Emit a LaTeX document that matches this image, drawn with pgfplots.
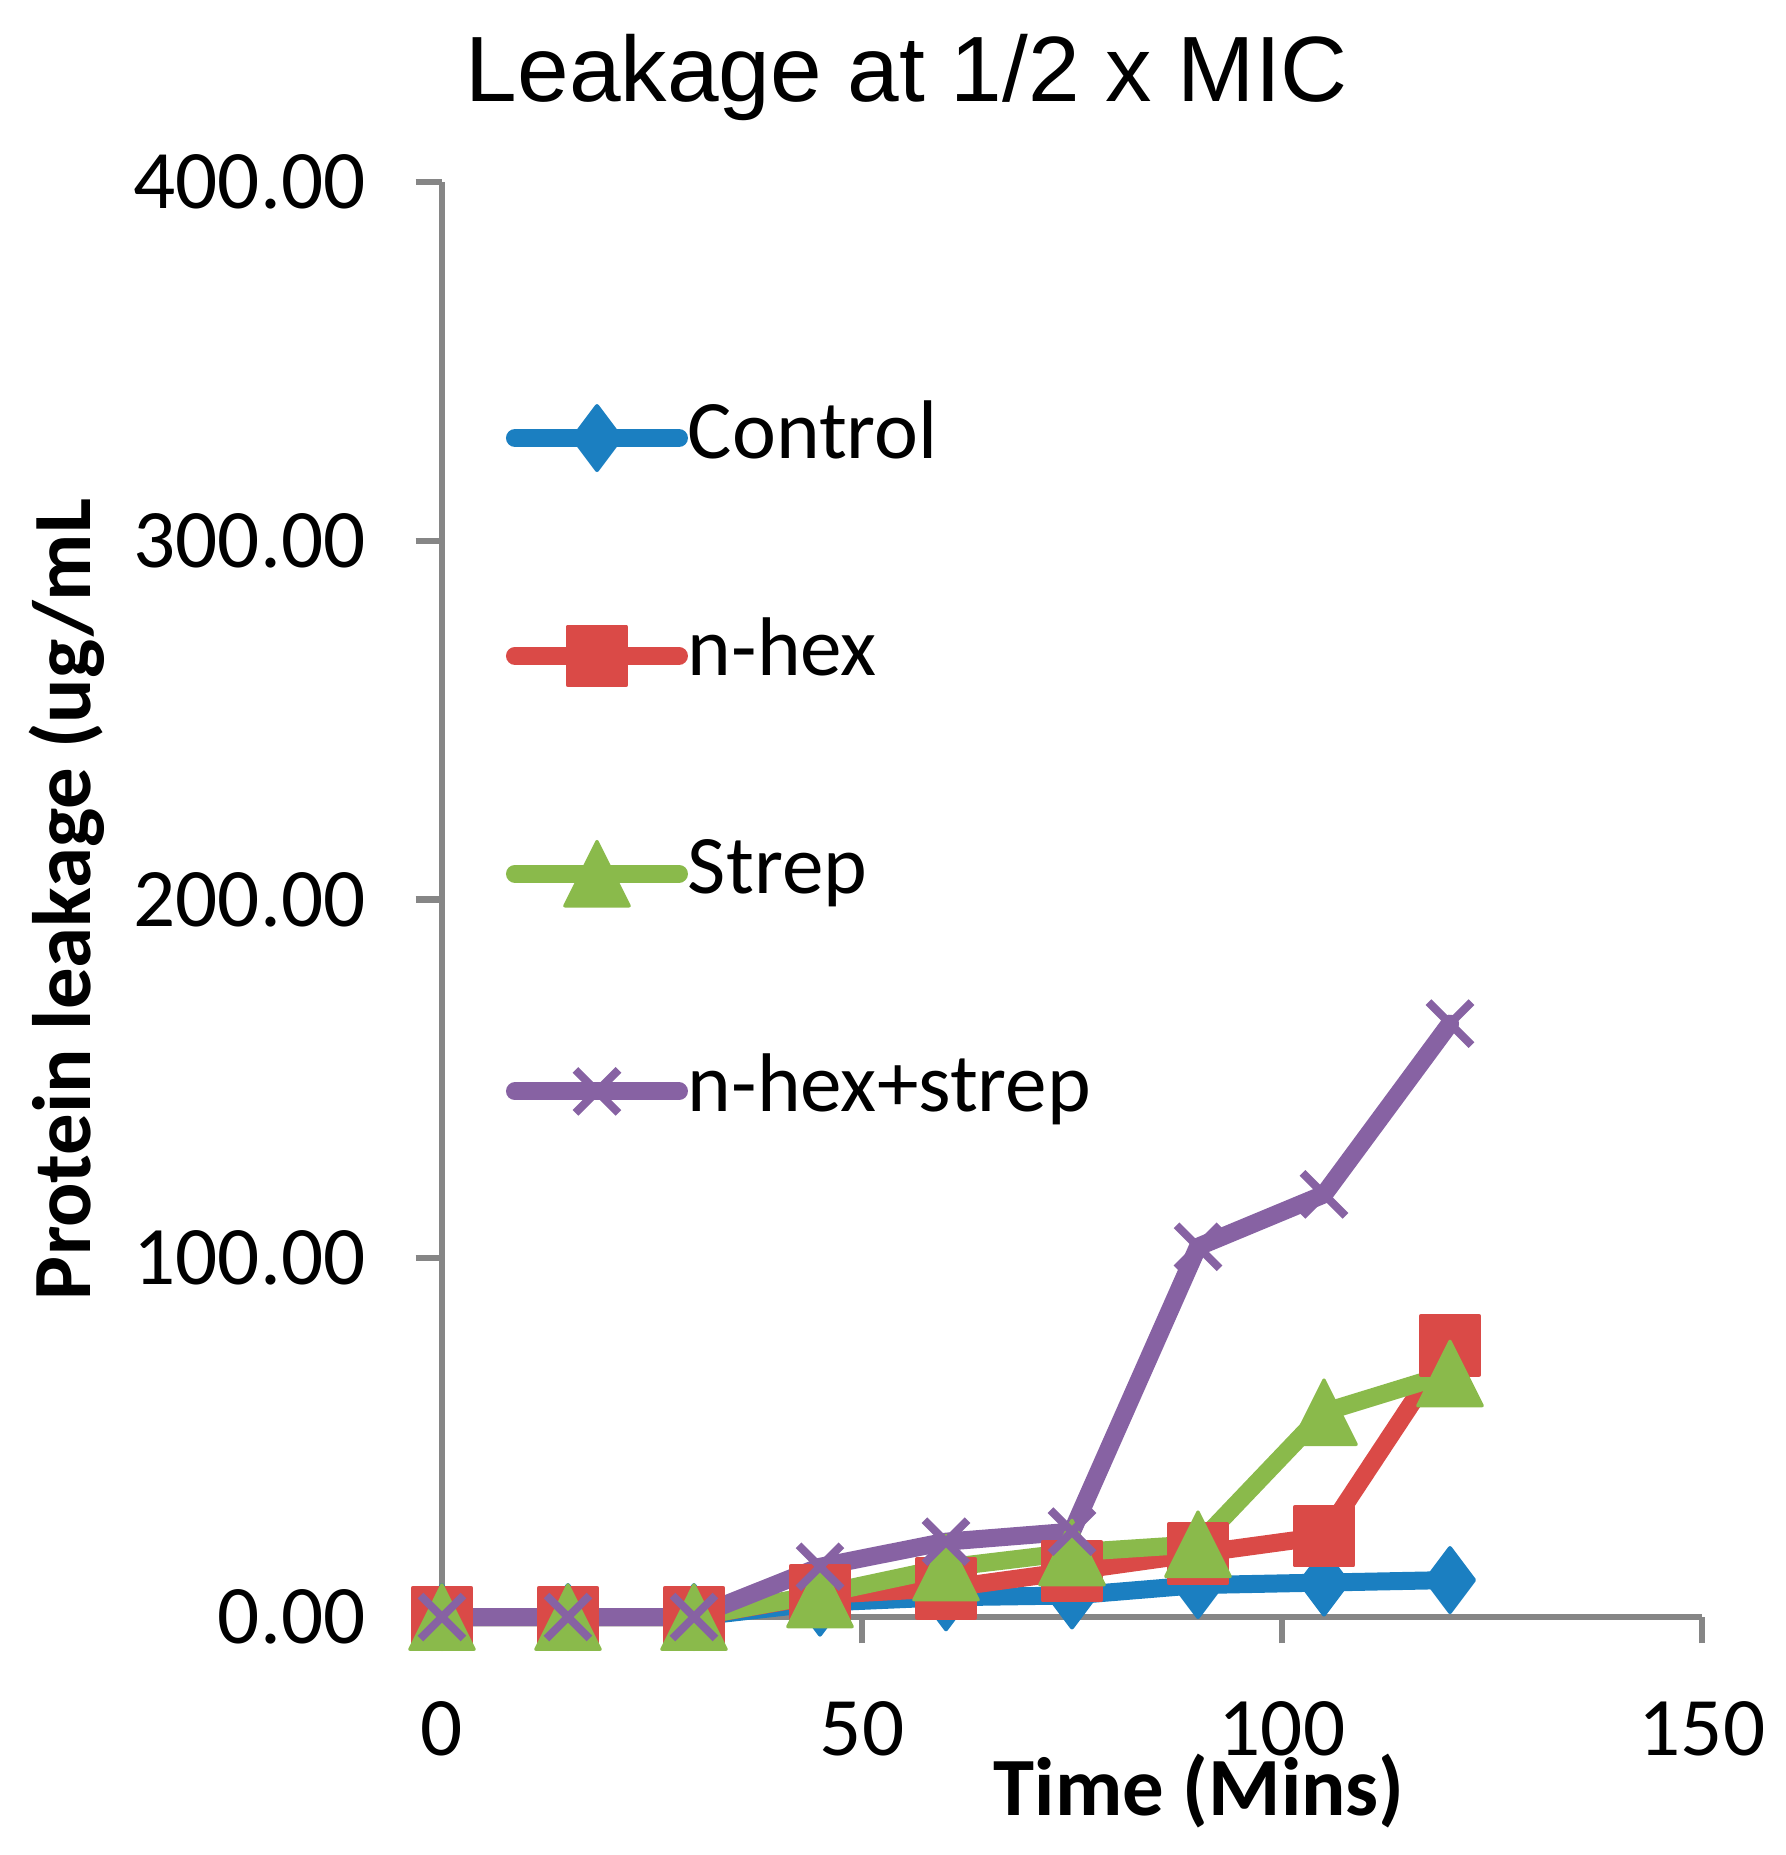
\documentclass[border=0pt]{standalone}
\usepackage{fontspec}
\setmainfont{Carlito}
\newfontfamily\titlefont{Liberation Sans}
\usepackage{pgfplots}
\pgfplotsset{compat=1.18}
\definecolor{cblue}{RGB}{27,127,193}
\definecolor{cred}{RGB}{218,74,71}
\definecolor{cgreen}{RGB}{138,186,75}
\definecolor{cpurple}{RGB}{135,98,163}
\definecolor{axgray}{RGB}{134,134,134}
\begin{document}
\begin{tikzpicture}
\path[use as bounding box] (-110.5pt,-59.5pt) rectangle (336pt,404.25pt);
\begin{axis}[
  at={(0pt,0pt)}, anchor=south west,
  scale only axis, width=315pt, height=358.75pt,
  xmin=0, xmax=150, ymin=0, ymax=400,
  clip=false,
  axis lines*=left,
  axis line style={draw=axgray, line width=1.6pt},
  every tick/.style={draw=axgray, line width=1.6pt},
  major tick length=6.6pt, tick align=outside,
  xtick={0,50,100,150}, ytick={0,100,200,300,400},
  /pgf/number format/assume math mode=true,
  ticklabel style={font=\fontsize{20.8}{25}\selectfont},
  yticklabel style={xshift=-9pt, /pgf/number format/.cd, fixed, fixed zerofill, precision=2},
  xticklabel style={inner sep=0pt, yshift=-14.3pt},
  scaled y ticks=false,
  title={\titlefont Leakage at 1/2 x MIC},
  title style={at={(axis description cs:0.369,1)}, anchor=base, yshift=14.2pt, font=\fontsize{23.2}{28}\selectfont},
  xlabel={Time (Mins)},
  xlabel style={at={(axis description cs:0.601,0)}, anchor=base, inner sep=0pt, yshift=-49.5pt, font=\bfseries\fontsize{20.7}{25}\selectfont},
  ylabel={Protein leakage (ug/mL},
  ylabel style={at={(axis description cs:-0.2789,0.5)}, anchor=base, font=\bfseries\fontsize{20.7}{25}\selectfont},
  legend image code/.code={\draw[mark repeat=2,mark phase=2] plot coordinates {(0pt,0pt) (20.5pt,0pt) (41pt,0pt)};},
  legend style={draw=none, fill=none, inner sep=0pt, outer sep=0pt,
    at={(axis description cs:0,1)}, anchor=north west, xshift=16pt, yshift=-54pt,
    row sep=34.45pt, column sep=0pt, font=\fontsize{20.8}{25}\selectfont,
    nodes={inner sep=0pt, text height=15pt, text depth=5pt}},
  legend cell align=left,
  every axis plot/.append style={line width=4.5pt, line join=round, line cap=round},
]
\addplot[color=cblue, mark=diamond*, mark size=8pt, mark options={line width=1pt, fill=cblue}]
  coordinates {(0,0)(15,0)(30,0)(45,4.0)(60,5.5)(75,6.0)(90,8.9)(105,9.6)(120,10.3)};
\addlegendentry{Control}
\addplot[color=cred, mark=square*, mark size=7.3pt, mark options={line width=1pt, fill=cred}]
  coordinates {(0,0)(15,0)(30,0)(45,6.1)(60,8.0)(75,12.8)(90,17.7)(105,22.5)(120,75.7)};
\addlegendentry{n-hex}
\addplot[color=cgreen, mark=triangle*, mark size=9.3pt, mark options={line width=0.8pt, fill=cgreen, yshift=-2.7pt, yscale=1.155}]
  coordinates {(0,0)(15,0)(30,0)(45,6.3)(60,13.8)(75,18.0)(90,20.3)(105,57.1)(120,67.9)};
\addlegendentry{Strep}
\addplot[color=cpurple, mark=x, mark size=7.6pt, mark options={line width=2pt, line cap=butt}]
  coordinates {(0,0)(15,0)(30,0)(45,14.0)(60,21.0)(75,23.8)(90,103.2)(105,117.8)(120,165.4)};
\addlegendentry{n-hex+strep}
\end{axis}
\end{tikzpicture}
\end{document}
